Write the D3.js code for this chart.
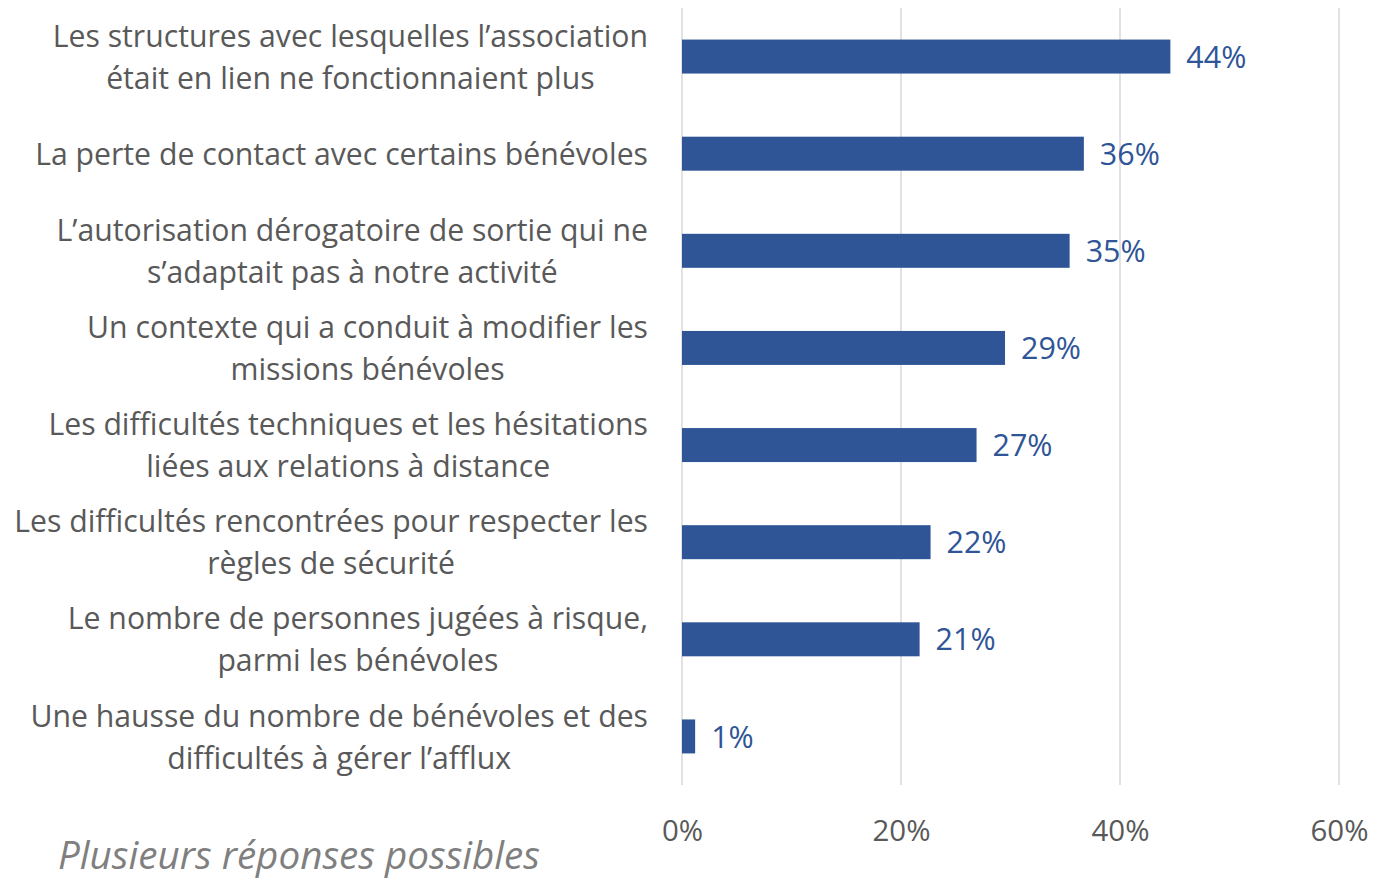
<!DOCTYPE html>
<html>
<head>
<meta charset="utf-8">
<script src="https://cdn.jsdelivr.net/npm/d3@7"></script>
<style>
  html, body { margin: 0; padding: 0; background: #fff; overflow: hidden; }
  svg { display: block; }
</style>
</head>
<body>
<svg id="chart" width="1373" height="879"></svg>
<script>
// ---- Data ----
const categories = [
  ["Les structures avec lesquelles l’association", "était en lien ne fonctionnaient plus"],
  ["La perte de contact avec certains bénévoles"],
  ["L’autorisation dérogatoire de sortie qui ne", "s’adaptait pas à notre activité"],
  ["Un contexte qui a conduit à modifier les", "missions bénévoles"],
  ["Les difficultés techniques et les hésitations", "liées aux relations à distance"],
  ["Les difficultés rencontrées pour respecter les", "règles de sécurité"],
  ["Le nombre de personnes jugées à risque,", "parmi les bénévoles"],
  ["Une hausse du nombre de bénévoles et des", "difficultés à gérer l’afflux"]
];
const values = [44.6, 36.7, 35.4, 29.5, 26.9, 22.7, 21.7, 1.2];
const valueLabels = ["44%", "36%", "35%", "29%", "27%", "22%", "21%", "1%"];
const xTicks = [0, 20, 40, 60];
const footnote = "Plusieurs réponses possibles";

// ---- Layout ----
const svg = d3.select("#chart");
const plot = { left: 682, right: 1339, top: 8, bottom: 785 };
const labelRight = 648;
const fontFamily = "'Open Sans', 'Noto Sans', sans-serif";
const barColor = "#2F5597";
const textColor = "#595959";
const textShift = 3;

const x = d3.scaleLinear().domain([0, 60]).range([plot.left, plot.right]);
const y = d3.scaleBand().domain(d3.range(categories.length))
  .range([plot.top, plot.bottom]).paddingInner(0.65).paddingOuter(0.325);

// measure helper to fit font sizes to the reference text widths
function fitSize(str, targetWidth, base, extra) {
  const t = svg.append("text").attr("font-family", fontFamily)
    .attr("font-size", base).attr("font-style", extra || "normal").text(str);
  const w = t.node().getComputedTextLength();
  t.remove();
  return base * targetWidth / w;
}
const catSize = fitSize("La perte de contact avec certains bénévoles", 613, 28);
const valSize = fitSize("44%", 60, 28);
const tickSize = fitSize("20%", 58, 28);
const footSize = fitSize(footnote, 482, 36, "italic");

// gridlines
svg.append("g").selectAll("line").data(xTicks).join("line")
  .attr("x1", d => x(d)).attr("x2", d => x(d))
  .attr("y1", plot.top).attr("y2", plot.bottom)
  .attr("stroke", "#d9d9d9").attr("stroke-width", 1.5);

// x axis tick labels
const xAxis = d3.axisBottom(x).tickValues(xTicks).tickFormat(d => d + "%").tickSize(0).tickPadding(0);
const gx = svg.append("g").attr("transform", `translate(0, ${plot.bottom})`).call(xAxis);
gx.select(".domain").remove();
gx.selectAll("text")
  .attr("font-family", fontFamily).attr("font-size", tickSize)
  .attr("fill", textColor).attr("dy", null).attr("y", 45 + textShift)
  .attr("dominant-baseline", "middle");

// bars
svg.append("g").selectAll("rect").data(values).join("rect")
  .attr("x", x(0))
  .attr("y", (d, i) => y(i))
  .attr("width", d => x(d) - x(0))
  .attr("height", y.bandwidth())
  .attr("fill", barColor);

// value labels
svg.append("g").selectAll("text").data(values).join("text")
  .attr("x", d => x(d) + 16)
  .attr("y", (d, i) => y(i) + y.bandwidth() / 2 + textShift)
  .attr("dominant-baseline", "middle")
  .attr("font-family", fontFamily).attr("font-size", valSize)
  .attr("fill", barColor)
  .text((d, i) => valueLabels[i]);

// category labels (block right aligned, lines centered)
const lineH = 42;
const catG = svg.append("g");
categories.forEach((lines, i) => {
  const cy = y(i) + y.bandwidth() / 2 + textShift;
  const g = catG.append("g");
  const texts = lines.map((ln, j) => g.append("text")
    .attr("font-family", fontFamily).attr("font-size", catSize)
    .attr("fill", textColor).attr("text-anchor", "middle")
    .attr("dominant-baseline", "middle")
    .attr("y", cy + (j - (lines.length - 1) / 2) * lineH)
    .text(ln));
  const maxW = d3.max(texts, t => t.node().getComputedTextLength());
  texts.forEach(t => t.attr("x", labelRight - maxW / 2));
});

// footnote
svg.append("text")
  .attr("x", 58).attr("y", 869)
  .attr("font-family", fontFamily).attr("font-size", footSize)
  .attr("font-style", "italic").attr("fill", "#7f7f7f")
  .text(footnote);
</script>
</body>
</html>
